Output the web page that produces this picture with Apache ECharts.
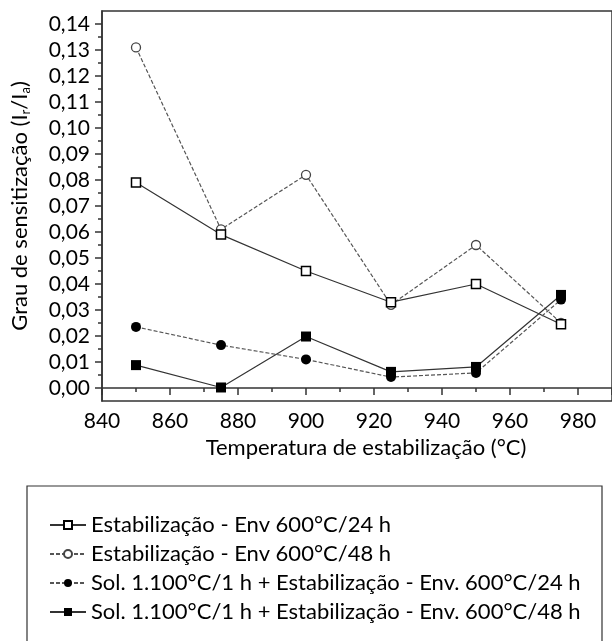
<!DOCTYPE html>
<html>
<head>
<meta charset="utf-8">
<script src="https://cdn.jsdelivr.net/npm/echarts@6/dist/echarts.min.js"></script>
<style>
  html, body { margin: 0; padding: 0; background: #fff; }
  #chart { width: 612px; height: 641px; }
</style>
</head>
<body>
<div id="chart"></div>
<script>
// temperaturas de estabilização (°C)
var temps = [850, 875, 900, 925, 950, 975];

// grau de sensitização Ir/Ia
var estab24 = [0.079, 0.059, 0.045, 0.033, 0.040, 0.0245];
var estab48 = [0.131, 0.061, 0.082, 0.032, 0.055, 0.025];
var sol24 = [0.0235, 0.0165, 0.011, 0.0042, 0.0058, 0.034];
var sol48 = [0.0088, 0.0002, 0.0198, 0.0062, 0.0081, 0.0358];

var names = [
    'Estabilização - Env 600°C/24 h',
    'Estabilização - Env 600°C/48 h',
    'Sol. 1.100°C/1 h + Estabilização - Env. 600°C/24 h',
    'Sol. 1.100°C/1 h + Estabilização - Env. 600°C/48 h'
];

// marcas do eixo y
var yTicks = [0, 0.01, 0.02, 0.03, 0.04, 0.05, 0.06, 0.07, 0.08, 0.09, 0.10, 0.11, 0.12, 0.13, 0.14];
var yMinor = [0.005, 0.015, 0.025, 0.035, 0.045, 0.055, 0.065, 0.075, 0.085, 0.095, 0.105, 0.115, 0.125, 0.135];

function pairs(vals) {
    return temps.map(function (t, i) { return [t, vals[i]]; });
}

var font = 'Lato';
var ink = '#333';

var myChart = echarts.init(document.getElementById('chart'));

var option = {
    backgroundColor: '#fff',
    animation: false,
    textStyle: { fontFamily: font, color: '#000' },
    grid: {
        left: 102, top: 11, width: 515, height: 390,
        show: true, borderColor: ink, borderWidth: 1.5
    },
    xAxis: {
        type: 'value',
        min: 840, max: 990, interval: 20,
        name: 'Temperatura de estabilização (°C)',
        nameLocation: 'middle',
        nameGap: 34,
        nameTextStyle: { fontSize: 22, fontFamily: font, color: '#000', padding: [0, 0, 0, 18] },
        axisLine: { lineStyle: { color: ink, width: 1.5 } },
        axisTick: { length: 7, lineStyle: { color: ink, width: 1.5 } },
        minorTick: { show: true, splitNumber: 2, length: 4, lineStyle: { color: ink, width: 1.5 } },
        axisLabel: { fontSize: 21, color: '#000', margin: 10, showMaxLabel: false },
        splitLine: { show: false }
    },
    yAxis: [{
        type: 'value',
        min: -0.005, max: 0.145,
        name: 'Grau de sensitização (I{s|r}/I{s|a})',
        nameLocation: 'middle',
        nameRotate: 90,
        nameGap: 70,
        nameTextStyle: {
            fontSize: 22, fontFamily: font, color: '#000',
            rich: { s: { fontSize: 13, fontFamily: font, color: '#000', verticalAlign: 'bottom', padding: [12, 0, 0, 0] } }
        },
        axisLine: { show: true, lineStyle: { color: ink, width: 1.5 } },
        axisTick: { customValues: yTicks, length: 7, lineStyle: { color: ink, width: 1.5 } },
        axisLabel: {
            customValues: yTicks,
            fontSize: 21, color: '#000', margin: 12,
            formatter: function (v) { return v.toFixed(2).replace('.', ','); }
        },
        splitLine: { show: false }
    }, {
        type: 'value',
        position: 'left',
        min: -0.005, max: 0.145,
        axisLine: { show: false },
        axisTick: { show: true, customValues: yMinor, length: 4, lineStyle: { color: ink, width: 1.5 } },
        axisLabel: { show: false },
        splitLine: { show: false }
    }],
    legend: {
        orient: 'vertical',
        left: 44, top: 509,
        itemWidth: 36, itemHeight: 10,
        itemGap: 7,
        textStyle: { fontSize: 22, fontFamily: font, color: '#000', lineHeight: 22 },
        data: names
    },
    graphic: [{
        type: 'rect',
        shape: { x: 27, y: 486, width: 575, height: 200 },
        style: { fill: 'none', stroke: ink, lineWidth: 1.2 },
        silent: true
    }],
    series: [{
        name: names[0], type: 'line', data: pairs(estab24),
        symbol: 'rect', symbolSize: 9,
        lineStyle: { color: ink, width: 1.2, type: 'solid' },
        itemStyle: { color: '#fff', borderColor: '#000', borderWidth: 1.5 },
        z: 3
    }, {
        name: names[1], type: 'line', data: pairs(estab48),
        symbol: 'circle', symbolSize: 9,
        lineStyle: { color: '#555', width: 1.2, type: [4, 2] },
        itemStyle: { color: '#fff', borderColor: '#444', borderWidth: 1.3 },
        z: 2
    }, {
        name: names[2], type: 'line', data: pairs(sol24),
        symbol: 'circle', symbolSize: 10,
        lineStyle: { color: '#555', width: 1.2, type: [4, 2] },
        itemStyle: { color: '#000', borderColor: '#000', borderWidth: 0 },
        z: 4
    }, {
        name: names[3], type: 'line', data: pairs(sol48),
        symbol: 'rect', symbolSize: 10,
        lineStyle: { color: ink, width: 1.2, type: 'solid' },
        itemStyle: { color: '#000', borderColor: '#000', borderWidth: 0 },
        z: 5
    }]
};

myChart.setOption(option);
</script>
</body>
</html>
